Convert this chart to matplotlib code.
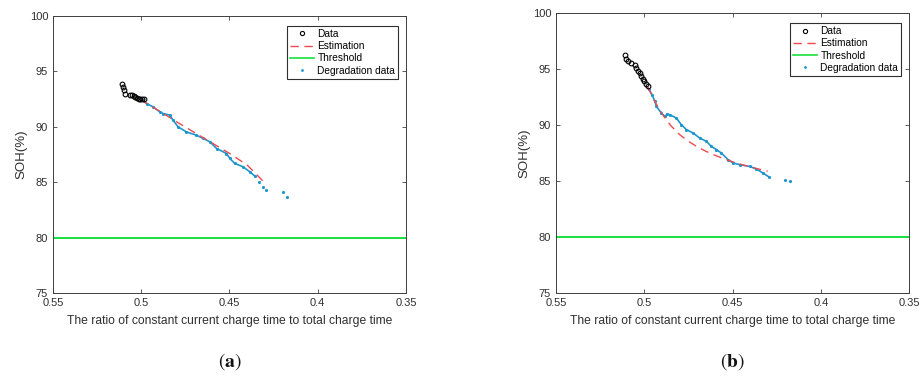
import matplotlib
matplotlib.use("Agg")
import matplotlib.pyplot as plt
from matplotlib.lines import Line2D

plt.rcParams['font.family'] = ['Liberation Sans', 'DejaVu Sans']
plt.rcParams['mathtext.fontset'] = 'stix'

# ---------------- data ----------------
x_ticks = [0.55, 0.5, 0.45, 0.4, 0.35]
x_tick_labels = ['0.55', '0.5', '0.45', '0.4', '0.35']
y_ticks = [75, 80, 85, 90, 95, 100]
threshold = 80

# panel (a)
data_x_a = [0.5111, 0.5103, 0.5095, 0.5090, 0.5065, 0.5054, 0.5043, 0.5033,
            0.5024, 0.5014, 0.5005, 0.4993, 0.4982]
data_y_a = [93.85, 93.55, 93.31, 93.00, 92.86, 92.86, 92.77, 92.65,
            92.56, 92.47, 92.50, 92.47, 92.50]
est_x_a = [0.5005, 0.490, 0.480, 0.470, 0.460, 0.450, 0.440, 0.431]
est_y_a = [92.45, 91.45, 90.45, 89.50, 88.55, 87.60, 86.55, 85.10]
deg_x_a = [0.4990, 0.4970, 0.4933, 0.4895, 0.4876, 0.4838, 0.4820, 0.4791,
           0.4744, 0.4687, 0.4649, 0.4611, 0.4573, 0.4517, 0.4498, 0.4470,
           0.4423, 0.4385, 0.4356]
deg_y_a = [92.45, 92.10, 91.80, 91.35, 91.20, 91.05, 90.60, 89.99,
           89.54, 89.24, 88.95, 88.64, 88.04, 87.59, 87.14, 86.69,
           86.39, 85.94, 85.55]
tail_x_a = [0.4332, 0.4313, 0.4294, 0.4199, 0.4173]
tail_y_a = [85.03, 84.58, 84.29, 84.13, 83.68]

# panel (b)
data_x_b = [0.5111, 0.5101, 0.5092, 0.5073, 0.5054, 0.5044, 0.5035, 0.5022,
            0.5016, 0.5007, 0.5001, 0.4988, 0.4979]
data_y_b = [96.28, 95.92, 95.68, 95.54, 95.32, 95.09, 94.85, 94.64,
            94.34, 94.13, 93.96, 93.66, 93.45]
est_x_b = [0.4980, 0.4960, 0.4940, 0.4920, 0.4890, 0.4850, 0.4800, 0.4750,
           0.4700, 0.4650, 0.4600, 0.4550, 0.4500, 0.4450, 0.4400, 0.4350, 0.4300]
est_y_b = [93.40, 92.75, 92.10, 91.55, 90.80, 89.95, 89.15, 88.55,
           88.05, 87.65, 87.30, 87.00, 86.72, 86.48, 86.26, 86.06, 85.88]
deg_x_b = [0.4975, 0.4955, 0.4940, 0.4931, 0.4903, 0.4884, 0.4870, 0.4856,
           0.4818, 0.4790, 0.4761, 0.4724, 0.4686, 0.4648, 0.4620, 0.4591,
           0.4563, 0.4525, 0.4497, 0.4459, 0.4403, 0.4365, 0.4327, 0.4293]
deg_y_b = [93.20, 92.70, 92.10, 91.66, 91.07, 90.77, 90.98, 90.92,
           90.63, 90.03, 89.58, 89.29, 88.84, 88.54, 88.09, 87.80,
           87.50, 86.90, 86.61, 86.46, 86.30, 86.07, 85.71, 85.36]
tail_x_b = [0.4205, 0.4176]
tail_y_b = [85.12, 84.96]

panels = [
    dict(data_x=data_x_a, data_y=data_y_a, est_x=est_x_a, est_y=est_y_a,
         deg_x=deg_x_a, deg_y=deg_y_a, tail_x=tail_x_a, tail_y=tail_y_a,
         tag='a', rect=[53/921, 1-293/383, 353/921, 277/383],
         legend_anchor=(0.663, 0.964)),
    dict(data_x=data_x_b, data_y=data_y_b, est_x=est_x_b, est_y=est_y_b,
         deg_x=deg_x_b, deg_y=deg_y_b, tail_x=tail_x_b, tail_y=tail_y_b,
         tag='b', rect=[556/921, 1-293/383, 353/921, 280/383],
         legend_anchor=(0.663, 0.964)),
]

C_DATA = '#000000'
C_EST = '#ee4b50'
C_THR = '#19e03c'
C_DEG = '#1d96cf'
C_TXT = '#303030'

fig = plt.figure(figsize=(9.21, 3.83), dpi=100)

for p in panels:
    ax = fig.add_axes(p['rect'])
    ax.axhline(threshold, color=C_THR, lw=1.4, zorder=2)
    ax.plot(p['deg_x'], p['deg_y'], '-', color=C_DEG, lw=1.2,
            marker='.', ms=2.5, zorder=3)
    ax.plot(p['tail_x'], p['tail_y'], '.', color=C_DEG, ms=2.5, zorder=3)
    ax.plot(p['est_x'], p['est_y'], '--', color=C_EST, lw=1.0,
            dashes=(6, 4), zorder=4)
    ax.plot(p['data_x'], p['data_y'], 'o', mfc='none', mec=C_DATA,
            ms=3.4, mew=0.8, zorder=5)

    ax.set_xlim(0.55, 0.35)
    ax.set_ylim(75, 100)
    ax.set_xticks(x_ticks)
    ax.set_xticklabels(x_tick_labels)
    ax.set_yticks(y_ticks)
    ax.tick_params(direction='in', length=3, width=0.6, top=True, right=True,
                   labelsize=8, labelcolor=C_TXT, colors='#404040', pad=3.5)
    for s in ax.spines.values():
        s.set_color('#404040')
        s.set_linewidth(0.7)
    ax.set_ylabel('SOH(%)', fontsize=9.5, color=C_TXT, labelpad=1.5)
    ax.set_xlabel('The ratio of constant current charge time to total charge time',
                  fontsize=8.7, color=C_TXT, labelpad=5)

    handles = [
        Line2D([], [], ls='none', marker='o', mfc='none', mec=C_DATA, ms=3, mew=0.8),
        Line2D([], [], ls='--', color=C_EST, lw=1.0, dashes=(6, 4)),
        Line2D([], [], ls='-', color=C_THR, lw=1.2),
        Line2D([], [], ls='none', marker='.', color=C_DEG, ms=2),
    ]
    leg = ax.legend(handles, ['Data', 'Estimation', 'Threshold', 'Degradation data'],
                    loc='upper left', bbox_to_anchor=p['legend_anchor'],
                    fontsize=7.3, frameon=True, fancybox=False, framealpha=1,
                    edgecolor='#303030', borderpad=0.3, labelspacing=0.22,
                    handlelength=2.4, handletextpad=0.3, borderaxespad=0)
    leg.get_frame().set_linewidth(0.8)

    cx = p['rect'][0] + p['rect'][2] / 2
    fig.text(cx, 1 - 362/383, r'$\mathrm{(}\mathbf{' + p['tag'] + r'}\mathrm{)}$',
             ha='center', va='center', fontsize=14, color='#111111')

fig.savefig('out.png', dpi=100)
